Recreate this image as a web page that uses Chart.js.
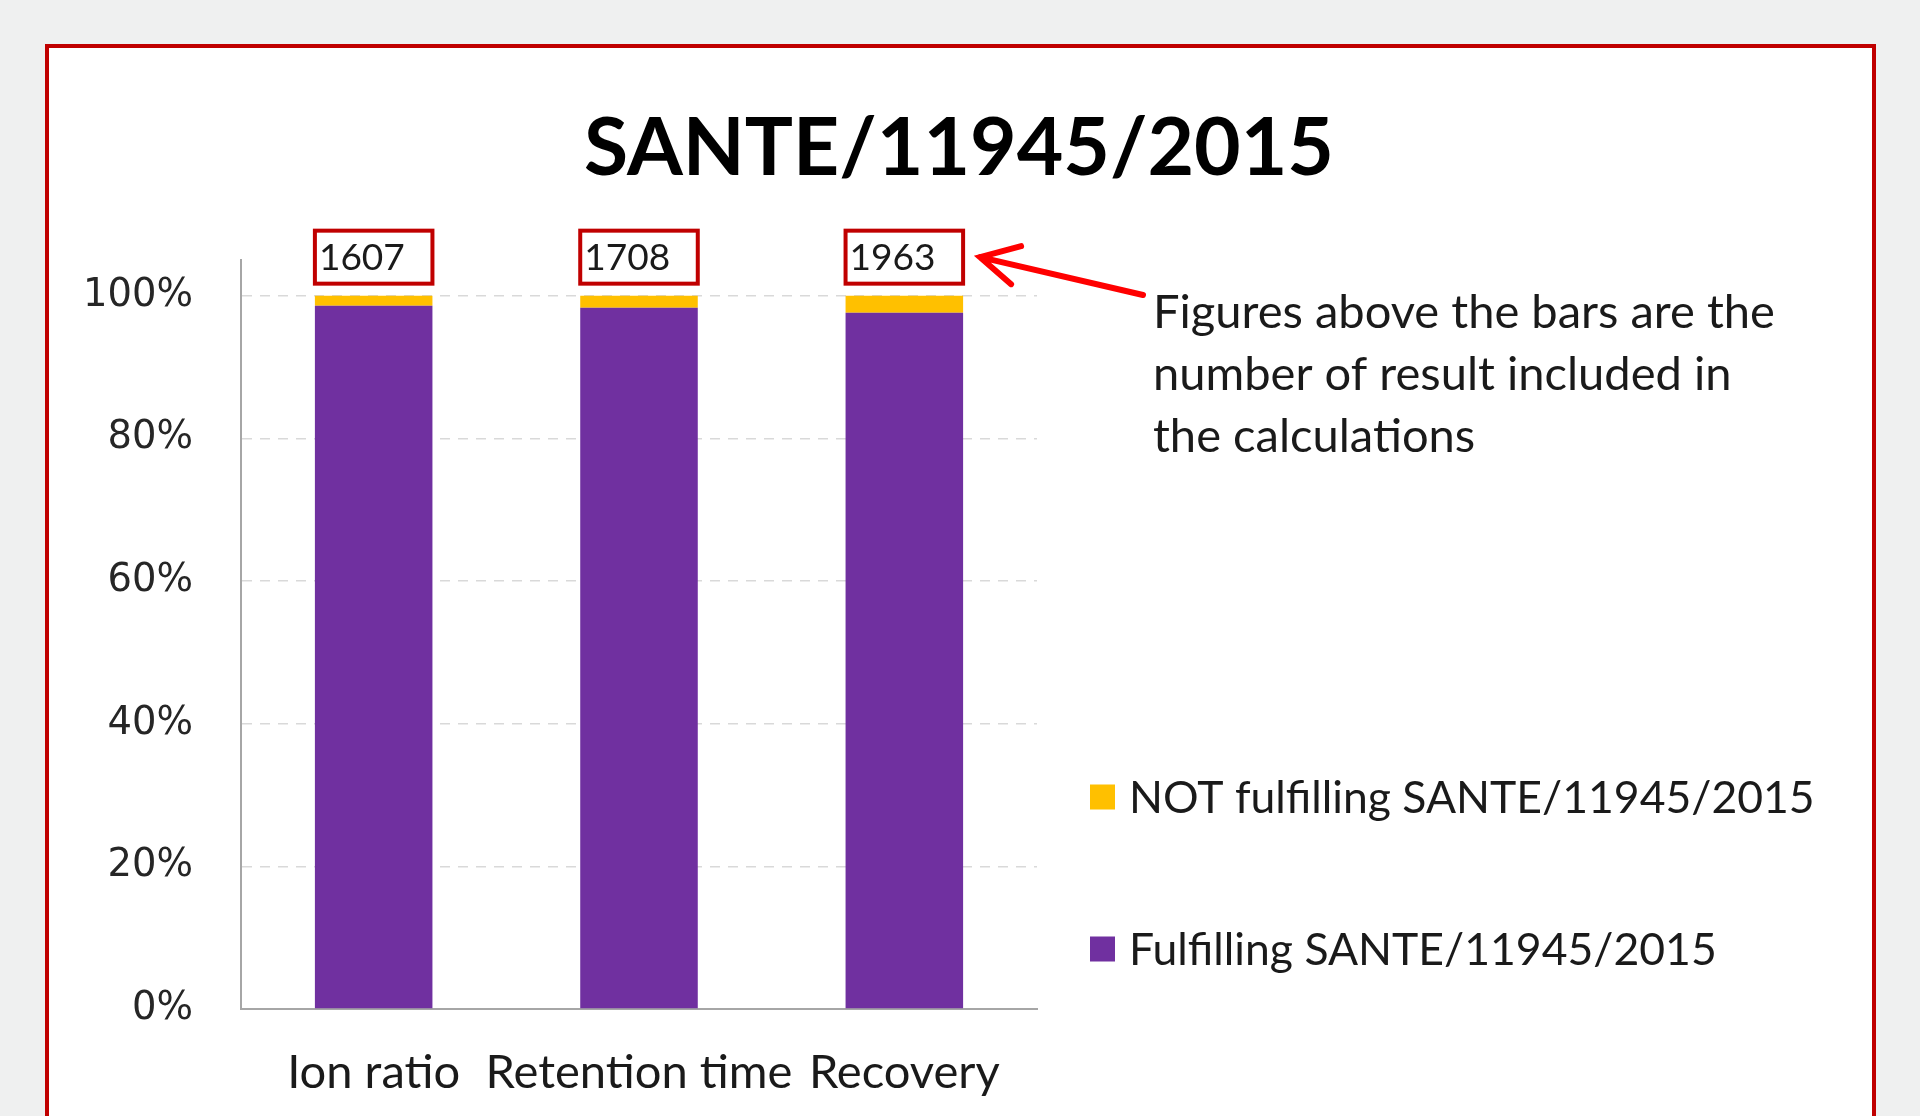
<!DOCTYPE html>
<html>
<head>
<meta charset="utf-8">
<script src="https://cdn.jsdelivr.net/npm/chart.js@4.4.0/dist/chart.umd.min.js"></script>
<style>
  html, body { margin: 0; padding: 0; background: #eff0f0; }
  body { width: 1920px; height: 1116px; overflow: hidden; position: relative; }
  #frame { position: absolute; left: 45px; top: 44px; width: 1823px; height: 1200px; background: #fff; border: 4px solid #c00000; }
  #chart { position: absolute; left: 0; top: 0; }
</style>
</head>
<body>
<div id="frame"></div>
<canvas id="chart" width="1920" height="1116"></canvas>
<script>
// --- data ---
var categories = ['Ion ratio', 'Retention time', 'Recovery'];
var fulfilling = [98.6, 98.3, 97.6];
var notFulfilling = [1.4, 1.7, 2.4];
var resultCounts = [1607, 1708, 1963];
var yTickValues = [0, 20, 40, 60, 80, 100];
var seriesNames = ['Fulfilling SANTE/11945/2015', 'NOT fulfilling SANTE/11945/2015'];
var chartTitle = 'SANTE/11945/2015';
var noteLines = ['Figures above the bars are the', 'number of result included in', 'the calculations'];

var PURPLE = '#7030a0';
var YELLOW = '#ffc000';
var BOX_RED = '#c00000';
var NARROW = "'Liberation Sans Narrow', Lato, sans-serif";
var WIDE = "'DejaVu Sans', Verdana, sans-serif";

// pick a font size so that a text spans the wanted width
var measureCtx = document.createElement('canvas').getContext('2d');
function fitSize(text, family, weight, width) {
  measureCtx.font = weight + ' 100px ' + family;
  return 100 * width / measureCtx.measureText(text).width;
}

var titleSize = fitSize(chartTitle, NARROW, 'bold', 750);
var catSize = fitSize('Retention time', NARROW, 'normal', 307);
var tickSize = fitSize('100%', WIDE, 'normal', 110);
var legendSize = fitSize(seriesNames[1], NARROW, 'normal', 686);
var noteSize = fitSize(noteLines[0], NARROW, 'normal', 622);
var countSize = fitSize('1607', NARROW, 'normal', 86);

// title, count boxes, arrow note and legend
var decorations = {
  id: 'decorations',
  afterDraw: function(chart) {
    var ctx = chart.ctx;
    ctx.save();

    ctx.fillStyle = '#000';
    ctx.font = 'bold ' + titleSize + 'px ' + NARROW;
    ctx.textAlign = 'center';
    ctx.textBaseline = 'alphabetic';
    ctx.fillText(chartTitle, 959, 175);

    // boxed counts above each bar
    var topBars = chart.getDatasetMeta(1).data;
    ctx.font = countSize + 'px ' + NARROW;
    ctx.textAlign = 'left';
    ctx.textBaseline = 'middle';
    topBars.forEach(function(bar, i) {
      var w = bar.width;
      var h = 53;
      var left = bar.x - w / 2;
      var top = bar.y - 12 - h;
      ctx.strokeStyle = BOX_RED;
      ctx.lineWidth = 4;
      ctx.strokeRect(left, top, w, h);
      ctx.fillStyle = '#1a1a1a';
      ctx.fillText(String(resultCounts[i]), left + 4, top + h / 2 + 1);
    });

    // arrow pointing at the last count
    var last = topBars[topBars.length - 1];
    var tipX = last.x + last.width / 2 + 17;
    var tipY = last.y - 12 - 53 / 2;
    ctx.strokeStyle = '#ff0000';
    ctx.lineWidth = 6;
    ctx.lineCap = 'round';
    ctx.beginPath();
    ctx.moveTo(1143, 295);
    ctx.lineTo(tipX, tipY);
    ctx.moveTo(tipX + 41, tipY - 11);
    ctx.lineTo(tipX, tipY);
    ctx.lineTo(tipX + 31, tipY + 27);
    ctx.stroke();

    ctx.fillStyle = '#1a1a1a';
    ctx.font = noteSize + 'px ' + NARROW;
    ctx.textAlign = 'left';
    ctx.textBaseline = 'alphabetic';
    noteLines.forEach(function(line, i) {
      ctx.fillText(line, 1153, 328 + i * 62);
    });

    // legend, top series first
    var legendY = [797, 949];
    var order = [1, 0];
    ctx.font = legendSize + 'px ' + NARROW;
    ctx.textBaseline = 'middle';
    order.forEach(function(d, i) {
      var ds = chart.data.datasets[d];
      ctx.fillStyle = ds.backgroundColor;
      ctx.fillRect(1090, legendY[i] - 12.5, 25, 25);
      ctx.fillStyle = '#1a1a1a';
      ctx.fillText(ds.label, 1129, legendY[i] + 2);
    });

    ctx.restore();
  }
};

new Chart(document.getElementById('chart'), {
  type: 'bar',
  data: {
    labels: categories,
    datasets: [
      { label: seriesNames[0], data: fulfilling, backgroundColor: PURPLE },
      { label: seriesNames[1], data: notFulfilling, backgroundColor: YELLOW }
    ]
  },
  options: {
    responsive: false,
    animation: false,
    layout: { padding: { left: 0, right: 883, top: 260, bottom: 0 } },
    datasets: { bar: { barPercentage: 0.443, categoryPercentage: 1.0 } },
    plugins: {
      legend: { display: false },
      title: { display: false },
      tooltip: { enabled: false }
    },
    scales: {
      x: {
        stacked: true,
        grid: { display: false, drawTicks: false },
        border: { color: '#a6a6a6', width: 2 },
        ticks: {
          color: '#1a1a1a',
          font: { family: NARROW, size: catSize },
          padding: 36,
          maxRotation: 0,
          autoSkip: false
        },
        afterFit: function(scale) { scale.height = 107; }
      },
      y: {
        stacked: true,
        min: 0,
        max: 105,
        afterBuildTicks: function(scale) {
          scale.ticks = yTickValues.map(function(v) { return { value: v }; });
        },
        grid: { color: '#d9d9d9', lineWidth: 1.5, drawTicks: false },
        border: { color: '#a6a6a6', width: 2, dash: [10, 8] },
        ticks: {
          color: '#262626',
          font: { family: WIDE, size: tickSize },
          padding: 48,
          callback: function(v) { return v + '%'; }
        },
        afterFit: function(scale) { scale.width = 241; }
      }
    }
  },
  plugins: [decorations]
});
</script>
</body>
</html>
